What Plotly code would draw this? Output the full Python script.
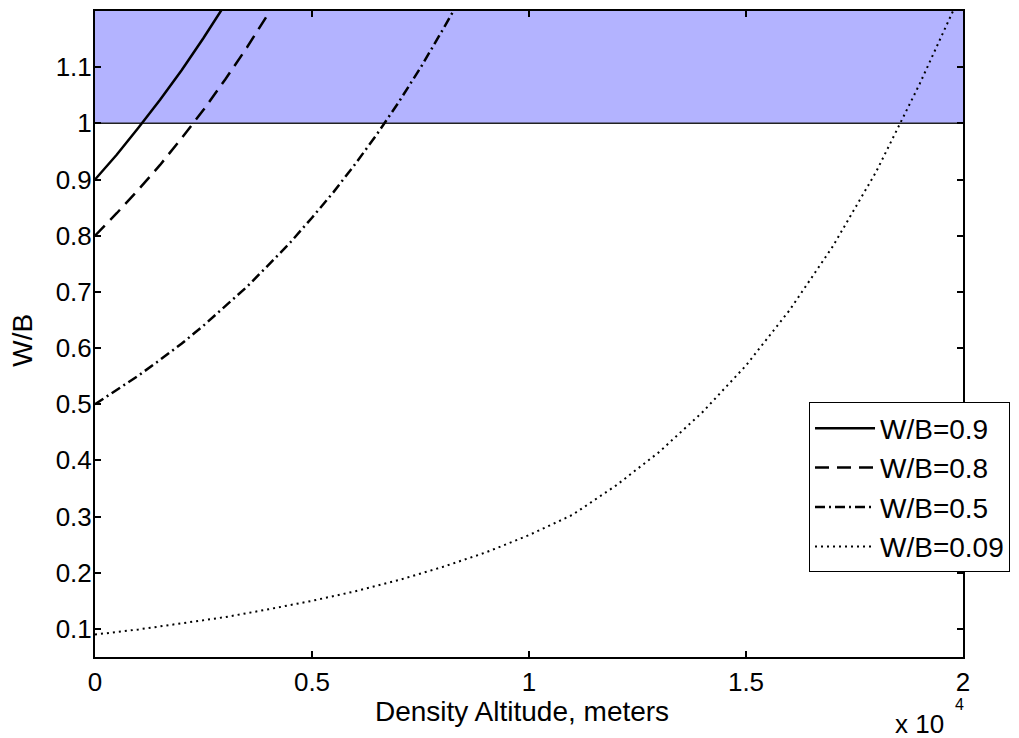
import plotly.graph_objects as go

# altitude (m) and W/B
alt_09 = [0, 500, 1000, 1500, 2000, 2500, 3000]
wb_09 = [0.900, 0.944, 0.992, 1.042, 1.095, 1.152, 1.212]

alt_08 = [0, 500, 1000, 1500, 2000, 2500, 3000, 3500, 4000]
wb_08 = [0.800, 0.840, 0.882, 0.926, 0.974, 1.024, 1.078, 1.135, 1.196]

alt_05 = [0, 500, 1000, 1500, 2000, 2500, 3000, 3500, 4000, 4500,
          5000, 5500, 6000, 6500, 7000, 7500, 8000, 8250]
wb_05 = [0.500, 0.525, 0.551, 0.579, 0.608, 0.640, 0.674, 0.709, 0.748, 0.788,
         0.832, 0.878, 0.928, 0.981, 1.038, 1.099, 1.165, 1.199]

alt_009 = [0, 1000, 2000, 3000, 4000, 5000, 6000, 7000, 8000, 9000, 10000,
           11000, 12000, 13000, 14000, 15000, 16000, 17000, 18000, 19000, 19800]
wb_009 = [0.090, 0.099, 0.110, 0.121, 0.135, 0.150, 0.167, 0.187, 0.210, 0.236, 0.267,
          0.303, 0.355, 0.415, 0.486, 0.569, 0.667, 0.781, 0.914, 1.070, 1.205]

series = [
    ("W/B=0.9", alt_09, wb_09, "solid", 2.5),
    ("W/B=0.8", alt_08, wb_08, "14px,8px", 2.5),
    ("W/B=0.5", alt_05, wb_05, "10px,4px,2px,4px", 2.5),
    ("W/B=0.09", alt_009, wb_009, "2px,4px", 2),
]

x_ticks = [0, 5000, 10000, 15000, 20000]
x_labels = ["0", "0.5", "1", "1.5", "2"]
y_ticks = [0.1, 0.2, 0.3, 0.4, 0.5, 0.6, 0.7, 0.8, 0.9, 1.0, 1.1]
y_labels = ["0.1", "0.2", "0.3", "0.4", "0.5", "0.6", "0.7", "0.8", "0.9", "1", "1.1"]

fig = go.Figure()

for i, (name, x, y, dash, w) in enumerate(series):
    fig.add_trace(go.Scatter(
        x=x, y=y, mode="lines", name=name, legendgroup=str(i),
        line=dict(color="black", width=w, dash=dash),
    ))

# shaded region W/B > 1
fig.add_shape(type="rect", xref="x", yref="y", x0=0, x1=20000, y0=1.0, y1=1.2,
              fillcolor="#b3b3ff", line=dict(width=0), layer="below")
fig.add_shape(type="line", xref="x", yref="y", x0=0, x1=20000, y0=1.0, y1=1.0,
              line=dict(color="#222", width=1.5), layer="below")

font = "Liberation Sans, Arial, sans-serif"

# axis titles and the x10^4 multiplier
fig.add_annotation(text="Density Altitude, meters", xref="paper", yref="paper",
                   x=0.492, y=-0.085, xanchor="center", yanchor="middle", showarrow=False,
                   font=dict(size=28))
fig.add_annotation(text="W/B", xref="paper", yref="paper", textangle=-90,
                   x=-0.083, y=0.491, xanchor="center", yanchor="middle", showarrow=False,
                   font=dict(size=28))
fig.add_annotation(text="x 10", xref="paper", yref="paper",
                   x=0.9804, y=-0.1037, xanchor="right", yanchor="middle", showarrow=False,
                   font=dict(size=26))
fig.add_annotation(text="4", xref="paper", yref="paper",
                   x=0.9954, y=-0.0735, xanchor="center", yanchor="middle", showarrow=False,
                   font=dict(size=16))

# page body has an 8px margin, so the margins are offset by it
fig.update_layout(
    width=1019, height=738,
    margin=dict(l=87, r=64, t=3, b=89, autoexpand=False),
    paper_bgcolor="white", plot_bgcolor="white",
    font=dict(family=font, size=26, color="black"),
    showlegend=True,
    legend=dict(x=0.8226, y=0.394, xanchor="left", yanchor="top",
                bgcolor="white", bordercolor="black", borderwidth=1,
                font=dict(size=28), tracegroupgap=0, itemwidth=60),
    xaxis=dict(range=[0, 20000], tickvals=x_ticks, ticktext=x_labels,
               showgrid=False, zeroline=False, showline=True, linecolor="black",
               linewidth=2, mirror="ticks", ticks="inside", ticklen=6,
               tickcolor="black", tickwidth=1.5, ticklabelstandoff=1),
    yaxis=dict(range=[0.05, 1.2], tickvals=y_ticks, ticktext=y_labels,
               showgrid=False, zeroline=False, showline=True, linecolor="black",
               linewidth=2, mirror="ticks", ticks="inside", ticklen=6,
               tickcolor="black", tickwidth=1.5, ticklabelstandoff=-4),
)

fig.write_html("out.html")
